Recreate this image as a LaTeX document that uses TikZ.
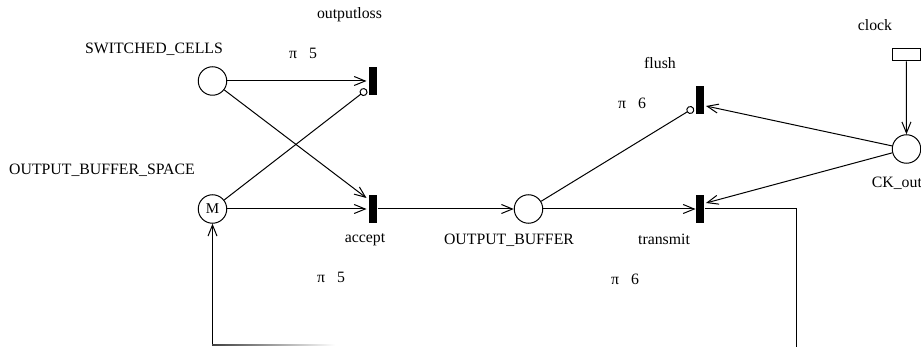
\documentclass[tikz,border=0pt]{standalone}
\usepackage{fontspec}
\setmainfont{Liberation Serif}
\usetikzlibrary{arrows.meta}
\begin{document}
\begin{tikzpicture}[x=1pt,y=-1pt,line width=1pt,
  place/.style={circle,draw,minimum size=28.5pt,inner sep=0pt,font=\fontsize{15}{17}\selectfont},
  trans/.style={rectangle,fill=black,minimum width=8pt,minimum height=28pt,inner sep=0pt},
  clockbox/.style={rectangle,draw,minimum width=28.5pt,minimum height=12pt,inner sep=0pt},
  lbl/.style={anchor=base,inner sep=0pt,font=\fontsize{15.8}{18}\selectfont},
  arc/.style={-{Straight Barb[length=11pt,width=9pt]}},
  inh/.style={-{Circle[open,length=8pt,width=8pt]}}]
\useasboundingbox (0,0) rectangle (921,347);
\clip (0,0) rectangle (921,347);
% places
\node[place] (SC) at (212.5,81) {};
\node[place] (OBS) at (212.5,209) {M};
\node[place] (OB) at (528.5,209) {};
\node[place] (CK) at (906.5,149) {};
% transitions
\node[trans] (OL) at (373,81) {};
\node[trans] (AC) at (373,209) {};
\node[trans] (FL) at (700,100.5) {};
\node[trans] (TR) at (700,209) {};
\node[clockbox] (CL) at (906.3,55) {};
% labels
\node[lbl] (l1) at (349.5,18.5) {outputloss};
\node[lbl] (l2) at (154,53.3) {SWITCHED\_CELLS};
\node[lbl] (l3) at (303,59) {π\hspace{12pt}5};
\node[lbl] (l4) at (102,175) {OUTPUT\_BUFFER\_SPACE};
\node[lbl] (l5) at (365,242.5) {accept};
\node[lbl] (l6) at (331,282.5) {π\hspace{12pt}5};
\node[lbl] (l7) at (509,245) {OUTPUT\_BUFFER};
\node[lbl] (l8) at (664,245) {transmit};
\node[lbl] (l9) at (625,284.5) {π\hspace{12pt}6};
\node[lbl] (l10) at (660,69) {flush};
\node[lbl] (l11) at (632,108.5) {π\hspace{12pt}6};
\node[lbl] (l12) at (875,31) {clock};
\node[lbl] (l13) at (907,188) {CK\_output};
% arcs
\draw[arc,shorten >=2pt] (SC) -- (OL);
\draw[arc] (SC) -- ([xshift=-2pt,yshift=11pt]AC.west);
\draw[inh] (OBS) -- ([xshift=-1.8pt,yshift=-8.6pt]OL.west);
\draw[arc,shorten >=2pt] (OBS) -- (AC);
\draw[arc] (AC) -- (OB);
\draw[inh] (OB) -- ([xshift=-1.8pt,yshift=-7.4pt]FL.west);
\draw[arc] (OB) -- (TR);
\draw[arc] (CL) -- (CK);
\draw[arc] (CK) -- ([xshift=1.5pt,yshift=-5.5pt]FL.east);
\draw[arc] (CK) -- ([xshift=1.5pt,yshift=6pt]TR.east);
% feedback
\coordinate (fbr) at (796,209);
\coordinate (fbd) at (796,352);
\coordinate (fbl) at (212.5,345);
\draw (TR.east) -- (fbr) -- (fbd);
\draw[arc] (fbl) -- (OBS);
\shade[left color=black!75,right color=white] (212,344.5) rectangle (335,345.6);
\end{tikzpicture}
\end{document}
